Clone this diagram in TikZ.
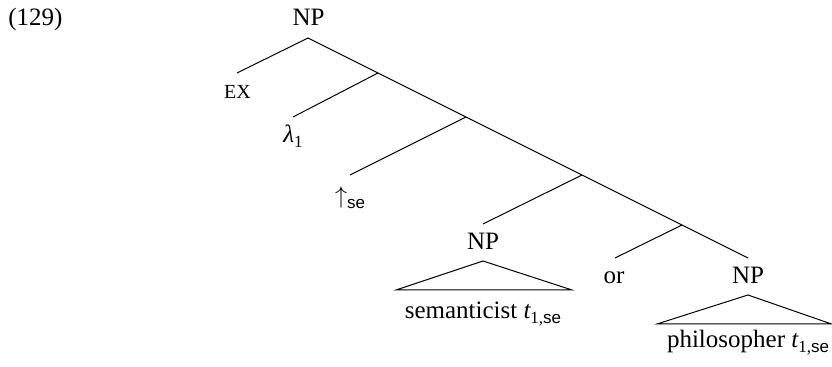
\documentclass[tikz,border=0pt]{standalone}
\usepackage{fontspec}
\setmainfont{Liberation Serif}
\newfontfamily\sesans{Liberation Sans}
\newcommand{\sesub}[1]{\raisebox{-0.35ex}{\fontsize{8.5}{10}\selectfont #1}}
\begin{document}
\begin{tikzpicture}[x=0.5pt,y=-0.5pt,
  lbl/.style={anchor=base,inner sep=0pt,font=\fontsize{12.5}{14}\selectfont},
  edge/.style={line width=0.5pt},
  tri/.style={line width=0.5pt}]
\useasboundingbox (0,0) rectangle (832,367);
% labels
\node[lbl,anchor=base west] (num) at (8,26) {(129)};
\node[lbl] (np0) at (308.5,26) {NP};
\node[lbl,font=\fontsize{10}{12}\selectfont] (ex) at (237.5,99) {EX};
\node[lbl] (lam) at (293,143) {\itshape λ\upshape\sesub{1}};
\node[lbl] (up) at (350,204) {$\uparrow$\sesub{\sesans se}};
\node[lbl] (np1) at (483,250) {NP};
\node[lbl] (or) at (614,284) {or};
\node[lbl] (np2) at (748,284) {NP};
\node[lbl] (sem) at (483,319) {semanticist \itshape t\upshape\sesub{1,\sesans se}};
\node[lbl] (phil) at (748,348) {philosopher \itshape t\upshape\sesub{1,\sesans se}};
% junction and end coordinates
\coordinate (r) at (308,38);
\coordinate (exT) at (237,73);
\coordinate (j2) at (378,73);
\coordinate (lamT) at (293,117);
\coordinate (j3) at (466,117);
\coordinate (upT) at (350,175);
\coordinate (j4) at (582,175);
\coordinate (np1T) at (483,224);
\coordinate (j5) at (682,225);
\coordinate (orT) at (615,258);
\coordinate (np2T) at (748,258);
% edges
\draw[edge] (exT) -- (r) -- (np2T);
\draw[edge] (j2) -- (lamT);
\draw[edge] (j3) -- (upT);
\draw[edge] (j4) -- (np1T);
\draw[edge] (j5) -- (orT);
% triangles
\coordinate (t1a) at (483,261);
\coordinate (t1l) at (396,290);
\coordinate (t1r) at (572,290);
\draw[tri] (t1a) -- (t1l) -- (t1r) -- cycle;
\coordinate (t2a) at (748,295);
\coordinate (t2l) at (657,324);
\coordinate (t2r) at (831.5,324);
\draw[tri] (t2a) -- (t2l) -- (t2r) -- cycle;
\end{tikzpicture}
\end{document}
